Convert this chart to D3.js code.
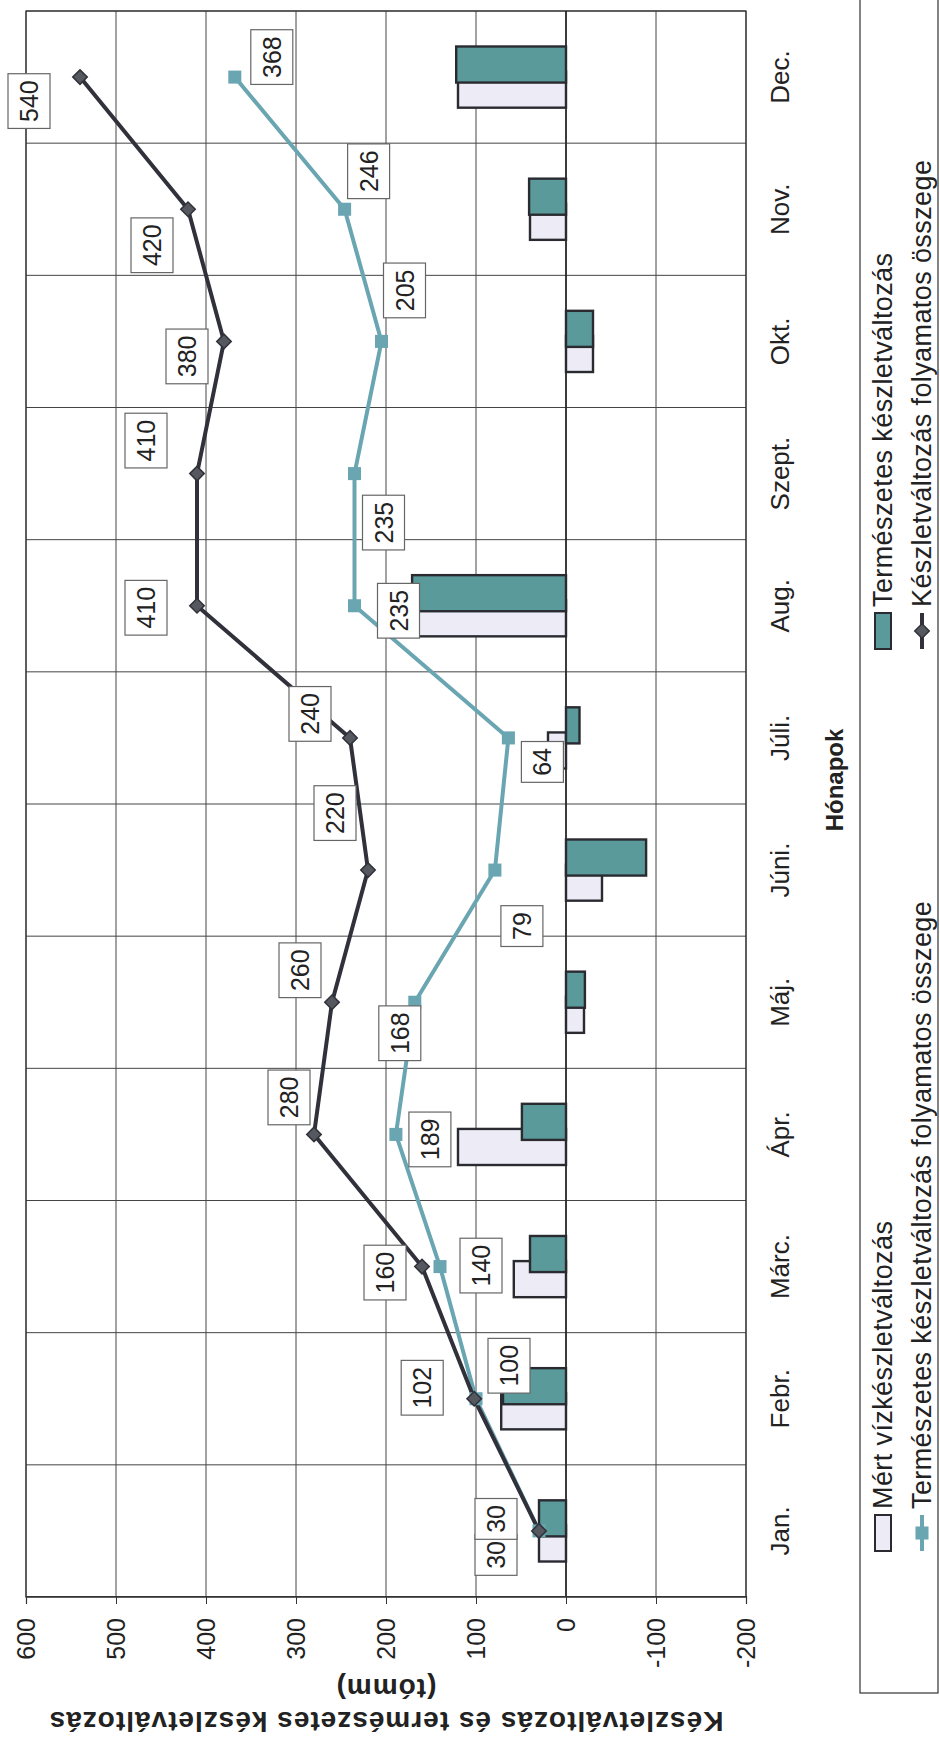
<!DOCTYPE html>
<html>
<head>
<meta charset="utf-8">
<script src="https://cdn.jsdelivr.net/npm/d3@7"></script>
<style>
  html, body { margin: 0; padding: 0; background: #fff; }
  svg { display: block; font-family: "Liberation Sans", Arial, sans-serif; }
</style>
</head>
<body>
<svg id="chart" width="940" height="1747"></svg>
<script>
// ==========================
// DATA
// ==========================
const months = ["Jan.", "Febr.", "Márc.", "Ápr.", "Máj.", "Júni.", "Júli.", "Aug.", "Szept.", "Okt.", "Nov.", "Dec."];
// monthly change (tómm)
const measuredChange = [30, 72, 58, 120, -20, -40, 20, 170, 0, -30, 40, 120];
const naturalChange = [30, 70, 40, 49, -21, -89, -15, 171, 0, -30, 41, 122];
// running totals
const measuredTotal = [30, 102, 160, 280, 260, 220, 240, 410, 410, 380, 420, 540];
const naturalTotal = [30, 100, 140, 189, 168, 79, 64, 235, 235, 205, 246, 368];
const yTicks = [600, 500, 400, 300, 200, 100, 0, -100, -200];
const legendLabels = [
    "Mért vízkészletváltozás",
    "Természetes készletváltozás",
    "Természetes készletváltozás folyamatos összege",
    "Készletváltozás folyamatos összege"
];

// hand-placed label nudges [along months, along values], px
const measuredLabelShift = [[-24, -43], [11, -52], [-6, -37], [37, -25], [32, -32], [57, -33],
    [24, -40], [-2, -51], [33, -51], [-15, -37], [-36, -36], [-24, -51]];
const naturalLabelShift = [[12, -43], [33, 33], [1, 41], [-5, 34], [-31, -15], [-56, 27],
    [-24, 34], [-5, 44], [-49, 29], [51, 23], [38, 24], [20, 37]];

// ==========================
// SETUP (chart is laid on its side)
// ==========================
const W = 1586, H = 720;
const svg = d3.select("#chart");
svg.append("rect").attr("width", 940).attr("height", 1747).attr("fill", "#fff");

const g = svg.append("g").attr("transform", "translate(26,1597) rotate(-90)");

const x = d3.scaleBand().domain(months).range([0, W]);
const y = d3.scaleLinear().domain([-200, 600]).range([H, 0]);
const bw = x.bandwidth();
const cx = m => x(m) + bw / 2;

const COL = {
    grid: "#444",
    lav: "#ecebf6",
    teal: "#5b9a9b",
    barStroke: "#2a2b31",
    tealLine: "#6aa5b2",
    darkLine: "#30313a",
    diamond: "#55595f"
};

// ==========================
// GRID
// ==========================
g.append("g").selectAll("line")
    .data(yTicks)
    .enter().append("line")
    .attr("x1", 0).attr("x2", W)
    .attr("y1", d => y(d)).attr("y2", d => y(d))
    .attr("stroke", COL.grid)
    .attr("stroke-width", 1);

g.append("g").selectAll("line")
    .data(months.map(m => x(m)).concat([W]))
    .enter().append("line")
    .attr("x1", d => d).attr("x2", d => d)
    .attr("y1", 0).attr("y2", H)
    .attr("stroke", COL.grid)
    .attr("stroke-width", 1);

g.append("rect")
    .attr("width", W).attr("height", H)
    .attr("fill", "none")
    .attr("stroke", "#333")
    .attr("stroke-width", 1.2);

// zero line doubles as category axis
g.append("line")
    .attr("x1", 0).attr("x2", W)
    .attr("y1", y(0)).attr("y2", y(0))
    .attr("stroke", "#222")
    .attr("stroke-width", 1.6);

// ==========================
// VALUE AXIS
// ==========================
const yAxis = g.append("g")
    .call(d3.axisLeft(y).tickValues(yTicks).tickSize(7).tickPadding(14).tickFormat(d => String(d)));
yAxis.select(".domain").attr("stroke", "#333").attr("stroke-width", 1.2);
yAxis.selectAll(".tick line").attr("stroke", "#333");
yAxis.selectAll(".tick text")
    .attr("font-size", 25)
    .attr("font-family", "Liberation Sans, Arial, sans-serif")
    .attr("fill", "#222");

g.append("text")
    .attr("transform", `translate(-124,${H / 2}) rotate(-90)`)
    .attr("text-anchor", "middle")
    .attr("dominant-baseline", "central")
    .attr("font-size", 28)
    .attr("letter-spacing", 1)
    .attr("font-weight", "bold")
    .attr("fill", "#222")
    .text("Készletváltozás és természetes készletváltozás");
g.append("text")
    .attr("transform", `translate(-91,${H / 2}) rotate(-90)`)
    .attr("text-anchor", "middle")
    .attr("dominant-baseline", "central")
    .attr("font-size", 28)
    .attr("letter-spacing", 1)
    .attr("font-weight", "bold")
    .attr("fill", "#222")
    .text("(tómm)");

// ==========================
// MONTH LABELS
// ==========================
g.append("g").selectAll("text")
    .data(months)
    .enter().append("text")
    .attr("x", d => cx(d))
    .attr("y", 754)
    .attr("text-anchor", "middle")
    .attr("dominant-baseline", "central")
    .attr("font-size", 26)
    .attr("fill", "#222")
    .text(d => d);

g.append("text")
    .attr("x", 817)
    .attr("y", 808)
    .attr("text-anchor", "middle")
    .attr("dominant-baseline", "central")
    .attr("font-size", 24)
    .attr("font-weight", "bold")
    .attr("fill", "#222")
    .text("Hónapok");

// ==========================
// BARS
// ==========================
const barW = bw * 0.273;
const barShift = bw * 0.095;

function drawBars(values, shift, fill) {
    g.append("g").selectAll("rect")
        .data(values)
        .enter().append("rect")
        .attr("x", (d, i) => cx(months[i]) + shift - barW / 2)
        .attr("width", barW)
        .attr("y", d => y(Math.max(d, 0)))
        .attr("height", d => Math.abs(y(d) - y(0)))
        .attr("fill", fill)
        .attr("stroke", COL.barStroke)
        .attr("stroke-width", d => d === 0 ? 0 : 2.4);
}
drawBars(measuredChange, -barShift, COL.lav);
drawBars(naturalChange, barShift, COL.teal);

// ==========================
// LINES
// ==========================
const line = d3.line()
    .x((d, i) => cx(months[i]))
    .y(d => y(d));

g.append("path")
    .datum(naturalTotal)
    .attr("d", line)
    .attr("fill", "none")
    .attr("stroke", COL.tealLine)
    .attr("stroke-width", 4)
    .attr("stroke-linejoin", "round");

g.append("path")
    .datum(measuredTotal)
    .attr("d", line)
    .attr("fill", "none")
    .attr("stroke", COL.darkLine)
    .attr("stroke-width", 4)
    .attr("stroke-linejoin", "round");

const squareSym = d3.symbol().type(d3.symbolSquare).size(170);
const diamondSym = d3.symbol().type(d3.symbolSquare).size(105);

g.append("g").selectAll("path")
    .data(naturalTotal)
    .enter().append("path")
    .attr("d", squareSym)
    .attr("transform", (d, i) => `translate(${cx(months[i])},${y(d)})`)
    .attr("fill", COL.tealLine);

g.append("g").selectAll("path")
    .data(measuredTotal)
    .enter().append("path")
    .attr("d", diamondSym)
    .attr("transform", (d, i) => `translate(${cx(months[i])},${y(d)}) rotate(45)`)
    .attr("fill", COL.diamond)
    .attr("stroke", COL.darkLine)
    .attr("stroke-width", 1.5);

// ==========================
// DATA LABELS
// ==========================
function drawLabels(values, shifts) {
    const lab = g.append("g").selectAll("g")
        .data(values)
        .enter().append("g")
        .attr("transform", (d, i) =>
            `translate(${cx(months[i]) + shifts[i][0]},${y(d) + shifts[i][1]})`);
    lab.append("rect").attr("fill", "#fff").attr("stroke", "#666").attr("stroke-width", 1.2);
    const txt = lab.append("text")
        .attr("text-anchor", "middle")
        .attr("dominant-baseline", "central")
        .attr("font-size", 25)
        .attr("fill", "#222")
        .text(d => d);
    txt.each(function () {
        const w = this.getComputedTextLength() + 13;
        d3.select(this.previousSibling)
            .attr("x", -w / 2).attr("width", w)
            .attr("y", -21).attr("height", 42);
    });
}
drawLabels(measuredTotal, measuredLabelShift);
drawLabels(naturalTotal, naturalLabelShift);

// ==========================
// LEGEND
// ==========================
const legend = g.append("g");
legend.append("rect")
    .attr("x", -96).attr("y", 834)
    .attr("width", 1730).attr("height", 78)
    .attr("fill", "none")
    .attr("stroke", "#333")
    .attr("stroke-width", 1.2);

const rows = [857, 896];
const cols = [46, 948];
const keyLen = 36;
const legendPos = [[cols[0], rows[0]], [cols[1], rows[0]], [cols[0], rows[1]], [cols[1], rows[1]]];

// bar keys
[[0, COL.lav], [1, COL.teal]].forEach(([k, fill]) => {
    legend.append("rect")
        .attr("x", legendPos[k][0]).attr("y", legendPos[k][1] - 8)
        .attr("width", keyLen).attr("height", 16)
        .attr("fill", fill)
        .attr("stroke", COL.barStroke)
        .attr("stroke-width", 2);
});
// line keys
[[2, COL.tealLine, squareSym, 0, null], [3, COL.darkLine, diamondSym, 45, COL.diamond]].forEach(([k, c, sym, rot, mfill]) => {
    const [lx, ly] = legendPos[k];
    legend.append("line")
        .attr("x1", lx).attr("x2", lx + keyLen)
        .attr("y1", ly).attr("y2", ly)
        .attr("stroke", c).attr("stroke-width", 4);
    legend.append("path")
        .attr("d", sym)
        .attr("transform", `translate(${lx + keyLen / 2},${ly}) rotate(${rot})`)
        .attr("fill", mfill || c)
        .attr("stroke", mfill ? c : "none")
        .attr("stroke-width", 1.5);
});

legend.selectAll("text.leg")
    .data(legendLabels)
    .enter().append("text")
    .attr("class", "leg")
    .attr("x", (d, i) => legendPos[i][0] + keyLen + 6)
    .attr("y", (d, i) => legendPos[i][1])
    .attr("dominant-baseline", "central")
    .attr("font-size", 27)
    .attr("letter-spacing", 0.4)
    .attr("fill", "#222")
    .text(d => d);
</script>
</body>
</html>
